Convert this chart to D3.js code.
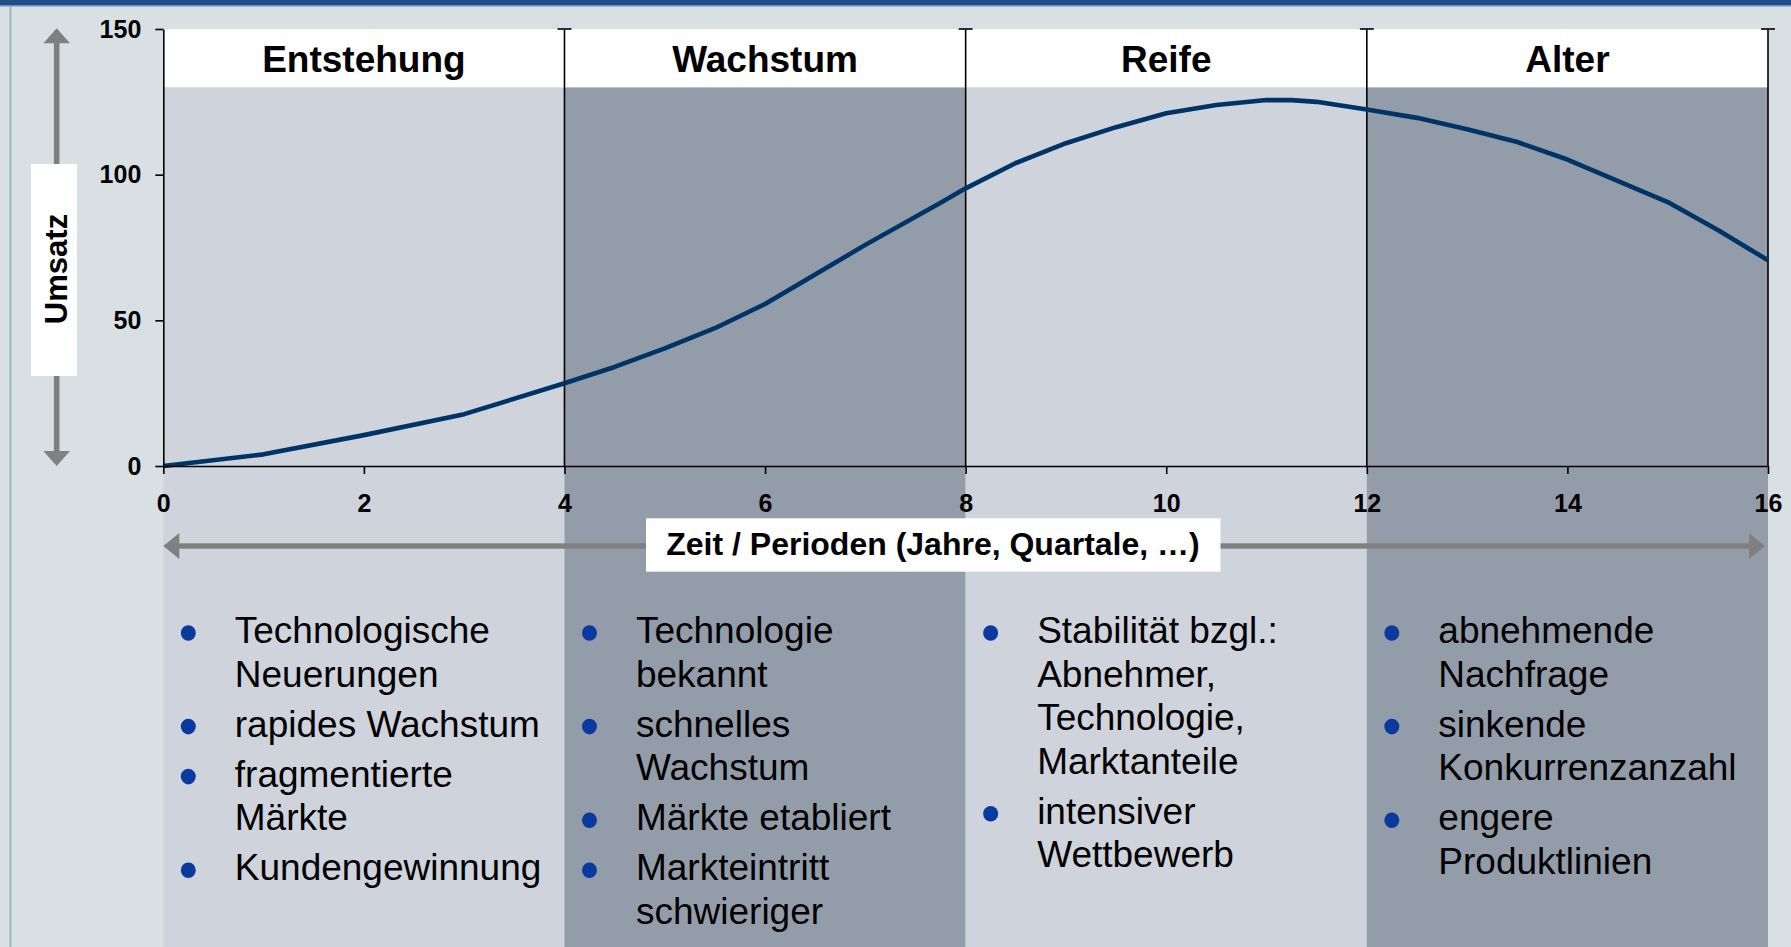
<!DOCTYPE html>
<html lang="de">
<head>
  <meta charset="UTF-8">
  <title>Produktlebenszyklus</title>
  <script src="https://d3js.org/d3.v7.min.js"></script>
  <style>
    body { margin: 0; background: #d8e0e3; }
    svg { display: block; font-family: "Liberation Sans", Arial, sans-serif; }
  </style>
</head>
<body>
  <svg id="chart" width="1791" height="947"></svg>

  <script>
    // Umsatzkurve
    const periods = [0, 1, 2, 3, 4, 4.5, 5, 5.5, 6, 6.25, 7, 7.75, 8, 8.5, 9, 9.5, 10, 10.5, 11, 11.25, 11.5, 12, 12.5, 13, 13.5, 14, 15, 15.5, 16]
    const umsatz = [0, 4, 10.6, 17.8, 28.4, 34, 40.4, 47.3, 55.6, 60.7, 75.9, 90.4, 95.3, 104, 110.8, 116.3, 121.1, 123.9, 125.6, 125.6, 125, 122.4, 119.5, 115.6, 111.2, 105.2, 90.6, 81, 70.6]

    // Phasen
    const phases = ["Entstehung", "Wachstum", "Reife", "Alter"]
    const phaseBounds = [0, 4, 8, 12, 16]
    const headerFrom = 130

    const xTicks = [0, 2, 4, 6, 8, 10, 12, 14, 16]
    const yTicks = [0, 50, 100, 150]

    const bulletsEntstehung = [["Technologische", "Neuerungen"], ["rapides Wachstum"], ["fragmentierte", "Märkte"], ["Kundengewinnung"]]
    const bulletsWachstum = [["Technologie", "bekannt"], ["schnelles", "Wachstum"], ["Märkte etabliert"], ["Markteintritt", "schwieriger"]]
    const bulletsReife = [["Stabilität bzgl.:", "Abnehmer,", "Technologie,", "Marktanteile"], ["intensiver", "Wettbewerb"]]
    const bulletsAlter = [["abnehmende", "Nachfrage"], ["sinkende", "Konkurrenzanzahl"], ["engere", "Produktlinien"]]

    const W = 1791, H = 947
    const svg = d3.select("#chart")

    const x = d3.scaleLinear().domain([0, 16]).range([163.3, 1768])
    const y = d3.scaleLinear().domain([0, 150]).range([466, 29])

    // Rahmen oben / links
    svg.append("rect").attr("x", 0).attr("y", 0).attr("width", W).attr("height", 5).attr("fill", "#1f4e8c")
    svg.append("rect").attr("x", 0).attr("y", 5).attr("width", W).attr("height", 1.5).attr("fill", "#6f8fb5")
    svg.append("line")
      .attr("x1", 10.5).attr("x2", 10.5).attr("y1", 6).attr("y2", H)
      .attr("stroke", "#9fb4be").attr("stroke-width", 2)

    // Phasenbänder (reichen bis unten)
    const bandColors = ["#cfd3db", "#939da9", "#cfd3db", "#939da9"]
    phases.forEach((p, i) => {
      svg.append("rect")
        .attr("x", x(phaseBounds[i]))
        .attr("y", y(headerFrom))
        .attr("width", x(phaseBounds[i + 1]) - x(phaseBounds[i]))
        .attr("height", H - y(headerFrom))
        .attr("fill", bandColors[i])
    })

    // weißer Kopfbereich
    svg.append("rect")
      .attr("x", x(0)).attr("y", y(150))
      .attr("width", x(16) - x(0)).attr("height", y(headerFrom) - y(150))
      .attr("fill", "#fff")

    phases.forEach((p, i) => {
      svg.append("text")
        .attr("x", (x(phaseBounds[i]) + x(phaseBounds[i + 1])) / 2)
        .attr("y", 72)
        .attr("text-anchor", "middle")
        .attr("font-weight", "bold")
        .attr("font-size", "37px")
        .attr("fill", "#000")
        .text(p)
    })

    // Trennlinien mit Kappe oben
    phaseBounds.slice(1).forEach(b => {
      svg.append("line")
        .attr("x1", x(b)).attr("x2", x(b))
        .attr("y1", y(150)).attr("y2", y(0))
        .attr("stroke", "#000").attr("stroke-width", 1.6)
      svg.append("line")
        .attr("x1", x(b) - 7).attr("x2", x(b) + 7)
        .attr("y1", y(150)).attr("y2", y(150))
        .attr("stroke", "#000").attr("stroke-width", 1.6)
    })

    // Kurve
    const pts = periods.map((p, i) => ({ t: p, v: umsatz[i] }))
    svg.append("path")
      .datum(pts)
      .attr("fill", "none")
      .attr("stroke", "#003467")
      .attr("stroke-width", 4.6)
      .attr("stroke-linejoin", "round")
      .attr("d", d3.line().x(d => x(d.t)).y(d => y(d.v)))

    // Achsen
    const yAxis = svg.append("g")
      .attr("transform", "translate(" + x(0) + ",0)")
      .call(d3.axisLeft(y).tickValues(yTicks).tickSize(8).tickSizeOuter(0).tickPadding(14))
    const xAxis = svg.append("g")
      .attr("transform", "translate(0," + y(0) + ")")
      .call(d3.axisBottom(x).tickValues(xTicks).tickSize(8).tickSizeOuter(0).tickPadding(20))

    ;[yAxis, xAxis].forEach(g => {
      g.select(".domain").attr("stroke", "#000").attr("stroke-width", 1.6)
      g.selectAll(".tick line").attr("stroke", "#000").attr("stroke-width", 1.6)
      g.selectAll("text")
        .attr("fill", "#000")
        .attr("font-family", "'Liberation Sans', Arial, sans-serif")
        .attr("font-weight", "bold")
        .attr("font-size", "25px")
    })

    // Pfeile
    const grey = "#808080"
    // vertikal
    svg.append("rect").attr("x", 56.7 - 2.8).attr("y", 42).attr("width", 5.6).attr("height", 410).attr("fill", grey)
    svg.append("path").attr("d", "M56.7,28.3 L70,43.3 L43.4,43.3 Z").attr("fill", grey)
    svg.append("path").attr("d", "M56.7,466 L70,451 L43.4,451 Z").attr("fill", grey)
    // horizontal
    svg.append("rect").attr("x", x(0) + 14).attr("y", 546 - 2.7).attr("width", x(16) - x(0) - 28).attr("height", 5.4).attr("fill", grey)
    svg.append("path").attr("d", `M${x(0)},546 L${x(0) + 16},533 L${x(0) + 16},559 Z`).attr("fill", grey)
    svg.append("path").attr("d", `M${x(16) - 3},546 L${x(16) - 19},533 L${x(16) - 19},559 Z`).attr("fill", grey)

    // Achsentitel
    svg.append("rect").attr("x", 31).attr("y", 164).attr("width", 46).attr("height", 212).attr("fill", "#fff")
    svg.append("text")
      .attr("transform", "translate(66.5,269) rotate(-90)")
      .attr("text-anchor", "middle")
      .attr("font-weight", "bold")
      .attr("font-size", "31px")
      .text("Umsatz")

    svg.append("rect").attr("x", 646).attr("y", 518.3).attr("width", 574.5).attr("height", 53.4).attr("fill", "#fff")
    svg.append("text")
      .attr("x", 933).attr("y", 555)
      .attr("text-anchor", "middle")
      .attr("font-weight", "bold")
      .attr("font-size", "32px")
      .text("Zeit / Perioden (Jahre, Quartale, …)")

    // Stichpunkte
    const lineStep = 43.6, itemGap = 6.4, firstBase = 643
    ;[bulletsEntstehung, bulletsWachstum, bulletsReife, bulletsAlter].forEach((items, i) => {
      const x0 = x(phaseBounds[i])
      let base = firstBase
      items.forEach(lines => {
        svg.append("ellipse")
          .attr("cx", x0 + 25).attr("cy", base - 10).attr("rx", 7.5).attr("ry", 7.8)
          .attr("fill", "#0a3a9e")
        lines.forEach((ln, j) => {
          svg.append("text")
            .attr("x", x0 + 71.5).attr("y", base + j * lineStep)
            .attr("font-size", "37px")
            .attr("fill", "#000")
            .text(ln)
        })
        base += lines.length * lineStep + itemGap
      })
    })
  </script>
</body>
</html>
